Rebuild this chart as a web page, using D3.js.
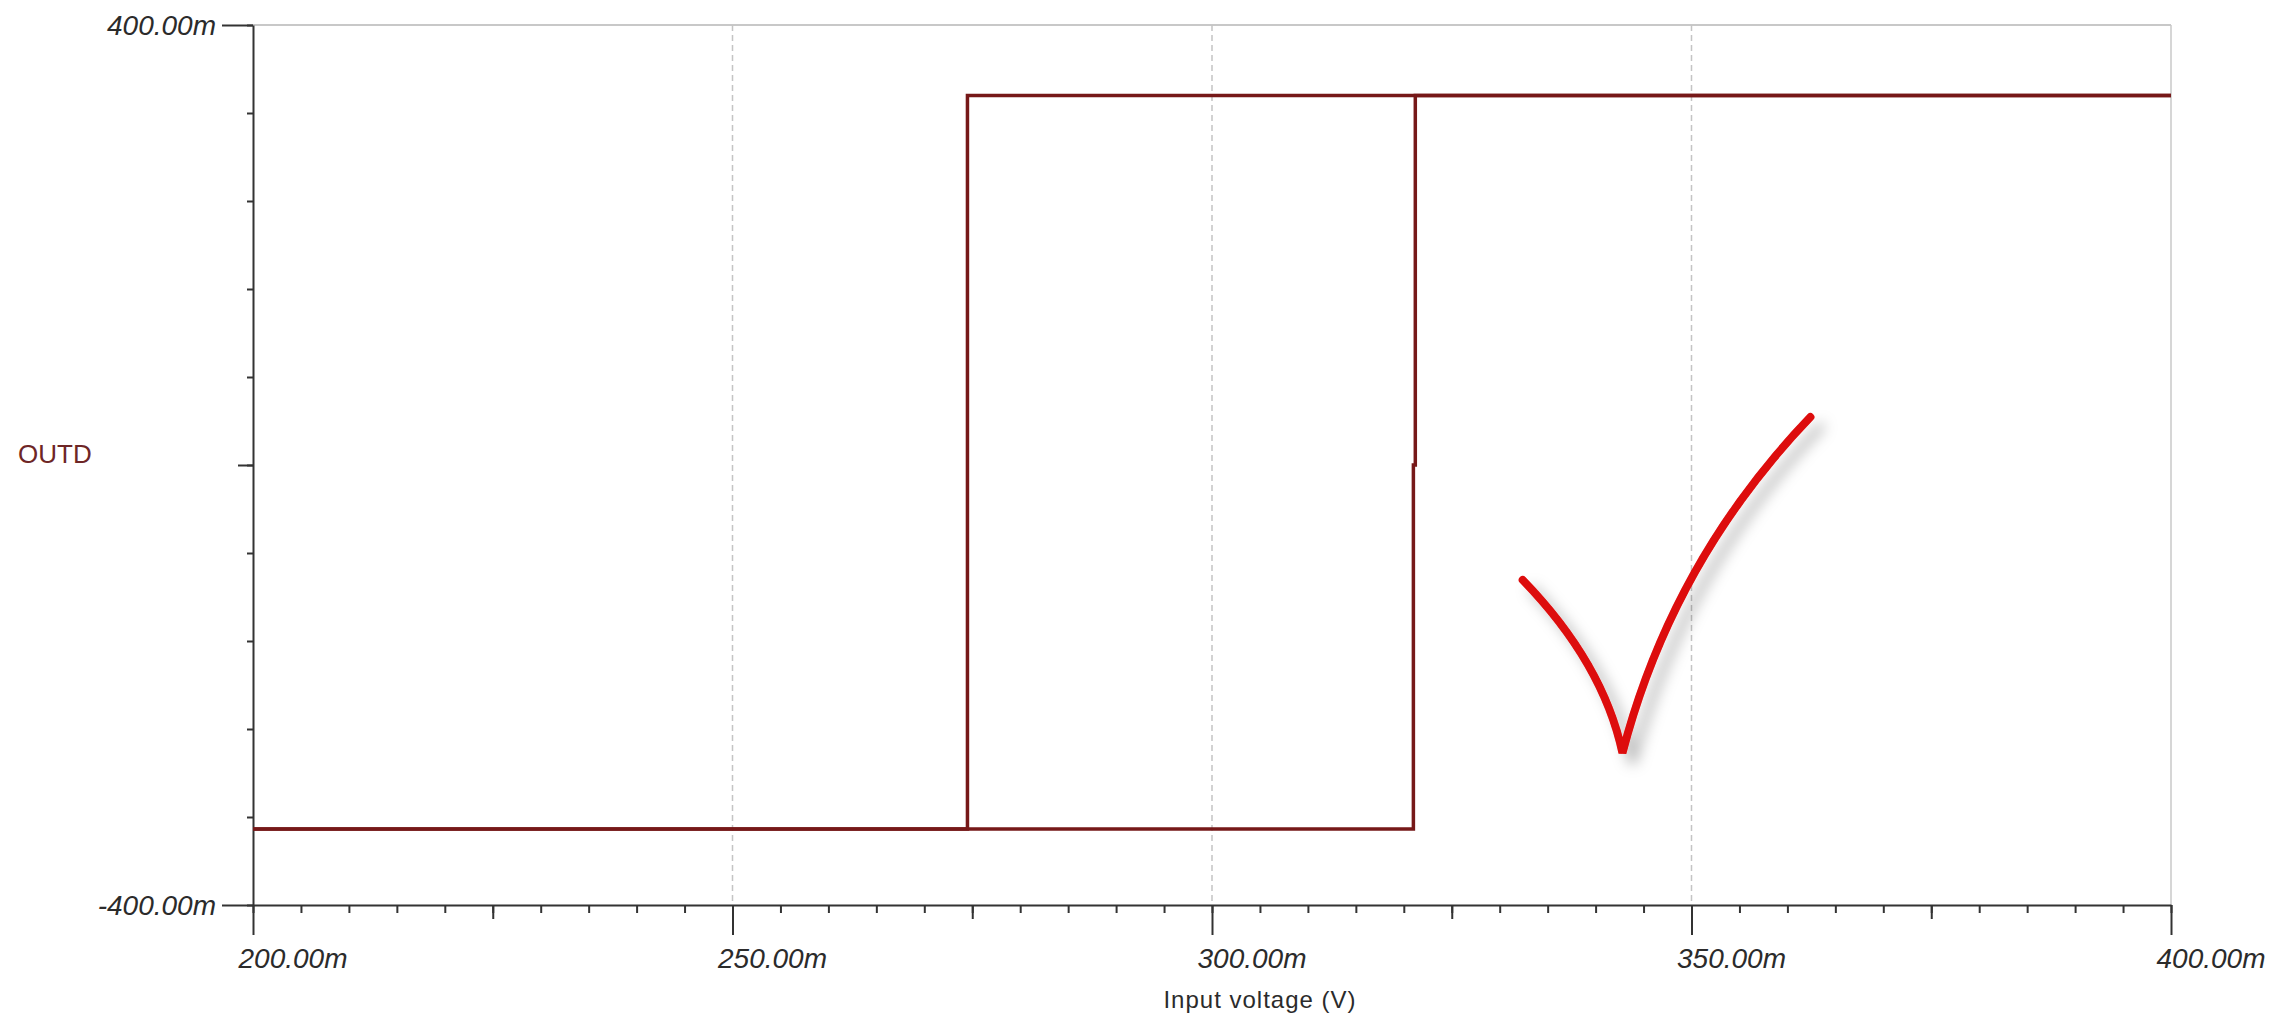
<!DOCTYPE html>
<html>
<head>
<meta charset="utf-8">
<script src="https://cdn.jsdelivr.net/npm/d3@7"></script>
<style>
  body { margin: 0; background: #fff; }
  svg { display: block; }
</style>
</head>
<body>
<svg class="chart"></svg>
<script>
// hysteresis sweep, values in mV

// sweep up: stays low until ~321m then jumps high
var upX = [200, 321.0, 321.0, 321.2, 321.2, 400];
var upY = [-331, -331, 0, 0, 336, 336];
// sweep down: stays high until ~274.5m then drops low
var downX = [400, 274.5, 274.5, 200];
var downY = [336, 336, -331, -331];

var xMinorTicks = d3.range(200, 401, 5);
var xMediumTicks = [225, 275, 325, 375];
var xMajorTicks = [200, 250, 300, 350, 400];
var yMinorTicks = d3.range(-400, 401, 80);
var yMediumTicks = [0];
var yMajorTicks = [-400, 400];
var gridTicks = [250, 300, 350];

// hand-drawn tick over the plot: start, control, vertex, control, end
var checkX = [332.4, 340.8, 342.8, 348.0, 362.4];
var checkY = [-104.5, -180, -261.8, -87.3, 43.6];

var ui = {
  width: 2292,
  height: 1023,
  left: 253,
  right: 2171,
  top: 25,
  bottom: 905,
  axis: '#333',
  text: '#2b2b2b',
  trace: '#761818',
  check: '#dd0808',
  font: '"Liberation Sans", Arial, sans-serif'
}

var chart = d3.select(".chart")
  .attr("width", ui.width)
  .attr("height", ui.height);

var x = d3.scaleLinear().domain([200, 400]).range([ui.left, ui.right]);
var y = d3.scaleLinear().domain([-400, 400]).range([ui.bottom, ui.top]);
// plain hyphen for negatives, like the original
var fmt = function(d) { return d.toFixed(2) + "m" };

// frame: top and right in light gray
chart.append("line")
  .attr("x1", ui.left).attr("x2", ui.right)
  .attr("y1", ui.top).attr("y2", ui.top)
  .style("stroke", "#c8c8c8").style("stroke-width", 2);
chart.append("line")
  .attr("x1", ui.right).attr("x2", ui.right)
  .attr("y1", ui.top).attr("y2", ui.bottom)
  .style("stroke", "#c8c8c8").style("stroke-width", 1.5);

// dashed vertical grid
chart.selectAll(".grid")
  .data(gridTicks)
  .enter().append("line")
  .attr("class", "grid")
  .attr("x1", function(d) { return x(d) })
  .attr("x2", function(d) { return x(d) })
  .attr("y1", ui.top)
  .attr("y2", ui.bottom)
  .style("stroke", "#c4c4c4")
  .style("stroke-width", 1.5)
  .style("stroke-dasharray", "6,4");

function styleAxis(g) {
  g.selectAll("line").style("stroke", ui.axis).style("stroke-width", 2);
  g.selectAll("path").style("stroke", ui.axis).style("stroke-width", 2);
  g.selectAll("text")
    .style("font-family", ui.font)
    .style("font-style", "italic")
    .style("font-size", "28px")
    .style("fill", ui.text);
}

// x axis, three tick levels
var xg = chart.append("g").attr("transform", "translate(0," + ui.bottom + ")");
xg.append("g").call(d3.axisBottom(x).tickValues(xMinorTicks).tickSize(8).tickSizeOuter(0).tickFormat(""))
  .call(styleAxis);
xg.append("g").call(d3.axisBottom(x).tickValues(xMediumTicks).tickSize(14).tickSizeOuter(0).tickFormat(""))
  .call(styleAxis)
  .select(".domain").remove();
var xMajor = xg.append("g").call(d3.axisBottom(x).tickValues(xMajorTicks).tickSize(30).tickSizeOuter(0).tickFormat(fmt))
  .call(styleAxis);
xMajor.select(".domain").remove();
xMajor.selectAll("text")
  .attr("text-anchor", "start")
  .attr("x", -15)
  .attr("y", 63)
  .attr("dy", null);

// y axis
var yg = chart.append("g").attr("transform", "translate(" + ui.left + ",0)");
yg.append("g").call(d3.axisLeft(y).tickValues(yMinorTicks).tickSize(6).tickSizeOuter(0).tickFormat(""))
  .call(styleAxis);
yg.append("g").call(d3.axisLeft(y).tickValues(yMediumTicks).tickSize(15).tickSizeOuter(0).tickFormat(""))
  .call(styleAxis)
  .select(".domain").remove();
var yMajor = yg.append("g").call(d3.axisLeft(y).tickValues(yMajorTicks).tickSize(31).tickPadding(6).tickSizeOuter(0).tickFormat(fmt))
  .call(styleAxis);
yMajor.select(".domain").remove();
yMajor.selectAll("text").attr("dy", "9");

// axis titles
chart.append("text")
  .attr("x", 1260)
  .attr("y", 1008)
  .attr("text-anchor", "middle")
  .style("font-family", ui.font)
  .style("font-size", "24px")
  .style("letter-spacing", "1px")
  .style("fill", ui.text)
  .text("Input voltage (V)");

chart.append("text")
  .attr("x", 18)
  .attr("y", 463)
  .style("font-family", ui.font)
  .style("font-size", "26px")
  .style("fill", "#6e2626")
  .text("OUTD");

// traces
var line = d3.line()
  .x(function(d) { return x(d[0]) })
  .y(function(d) { return y(d[1]) });

var sweeps = [d3.zip(upX, upY), d3.zip(downX, downY)];
chart.selectAll(".trace")
  .data(sweeps)
  .enter().append("path")
  .attr("class", "trace")
  .attr("d", line)
  .style("fill", "none")
  .style("stroke", ui.trace)
  .style("stroke-width", 3.5)
  .style("stroke-linejoin", "miter");

// check mark with soft shadow
var defs = chart.append("defs");
defs.append("filter")
  .attr("id", "shadow")
  .attr("x", "-50%").attr("y", "-50%")
  .attr("width", "200%").attr("height", "200%")
  .append("feDropShadow")
  .attr("dx", 10).attr("dy", 10)
  .attr("stdDeviation", 7)
  .attr("flood-color", "#000")
  .attr("flood-opacity", 0.28);

var p = d3.path();
p.moveTo(x(checkX[0]), y(checkY[0]));
p.quadraticCurveTo(x(checkX[1]), y(checkY[1]), x(checkX[2]), y(checkY[2]));
p.quadraticCurveTo(x(checkX[3]), y(checkY[3]), x(checkX[4]), y(checkY[4]));

chart.append("path")
  .attr("d", p.toString())
  .attr("filter", "url(#shadow)")
  .style("fill", "none")
  .style("stroke", ui.check)
  .style("stroke-width", 8)
  .style("stroke-linecap", "round")
  .style("stroke-linejoin", "miter");
</script>
</body>
</html>
